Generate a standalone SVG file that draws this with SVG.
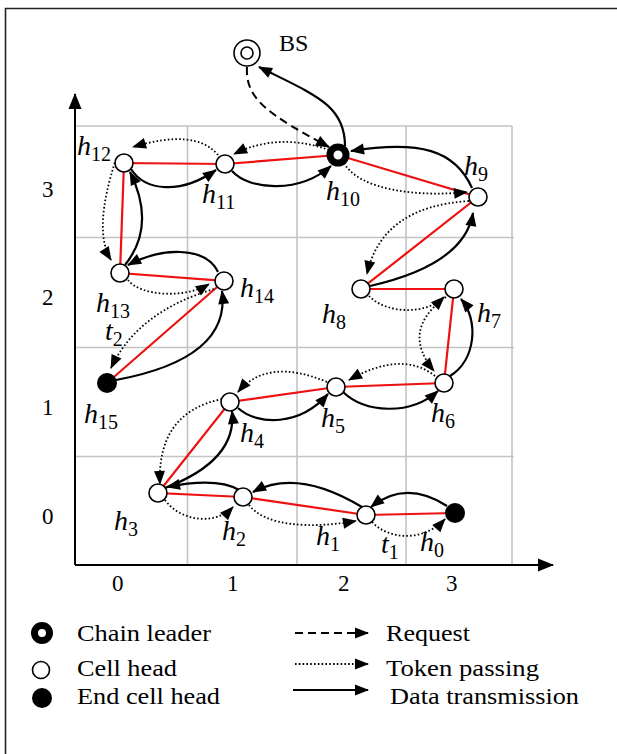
<svg xmlns="http://www.w3.org/2000/svg" width="617" height="754" viewBox="0 0 617 754">
<style>
.grid{stroke:#c4c4c4;stroke-width:1.6;fill:none}
.axis{stroke:#000;stroke-width:2;fill:none}
.chain{stroke:#ee1111;stroke-width:2.2;fill:none}
.data{stroke:#000;stroke-width:2.2;fill:none;marker-end:url(#ah)}
.tok{stroke:#000;stroke-width:1.8;fill:none;stroke-dasharray:1.6 2.2;marker-end:url(#ah)}
.req{stroke:#000;stroke-width:2;fill:none;stroke-dasharray:8 5;marker-end:url(#ah)}
.cell{fill:#fff;stroke:#000;stroke-width:1.6}
.endc{fill:#000}
.lead{fill:#fff;stroke:#000;stroke-width:7}
text{font-family:"Liberation Serif","Times New Roman",serif;fill:#000}
.lbl{font-size:28px;font-style:italic}
.sub{font-size:20px;font-style:normal}
.num{font-size:23px}
.leg{font-size:24px}
</style>
<defs>
<marker id="ah" markerUnits="userSpaceOnUse" markerWidth="14" markerHeight="11" refX="13" refY="5.5" orient="auto" overflow="visible">
<path d="M0,0 L14,5.5 L0,11 z" fill="#000"/>
</marker>
<marker id="axh" markerUnits="userSpaceOnUse" markerWidth="16" markerHeight="13" refX="15" refY="6.5" orient="auto" overflow="visible">
<path d="M0,0 L16,6.5 L0,13 z" fill="#000"/>
</marker>
</defs>
<rect width="617" height="754" fill="#fff"/>
<path d="M5.5,760 V8.5 H620" stroke="#222" stroke-width="1.6" fill="none"/>

<g id="grid">
<path class="grid" d="M75,126 H512 M75,237.5 H514 M75,347.5 H514 M75,456.5 H514 M187.5,126 V565 M297,126 V565 M406,126 V565 M512,126 V565"/>
</g>
<g id="axes">
<path class="axis" d="M75,565 V94" marker-end="url(#axh)"/>
<path class="axis" d="M75,565 H553" marker-end="url(#axh)"/>
<text class="num" x="42" y="197">3</text>
<text class="num" x="42" y="305">2</text>
<text class="num" x="42" y="415">1</text>
<text class="num" x="42" y="524">0</text>
<text class="num" x="112" y="591">0</text>
<text class="num" x="227" y="591">1</text>
<text class="num" x="338" y="591">2</text>
<text class="num" x="446" y="591">3</text>
</g>

<g id="chain">
<polyline class="chain" points="455,513 366,515 243,497 158,493 230,402 336,387 444,383 454,289 361,289 478,197 338,155 225,164 124,163 120,273 224,281 107,383"/>
</g>

<g id="connectors">
<!-- data transmission -->
<path class="data" d="M447,506 Q405.5,479.5 371,507"/>
<path class="data" d="M362,507 Q297,468 253,492"/>
<path class="data" d="M239,490 Q217,477 167,487"/>
<path class="data" d="M165,488 Q237.5,460.5 232,411"/>
<path class="data" d="M238,408 C258,426 300,426 328,394"/>
<path class="data" d="M343,392 C365,413 410,416 438,391"/>
<path class="data" d="M450,376 C476,360 479,320 461,299"/>
<path class="data" d="M370,286 Q464.5,264.5 473,213"/>
<path class="data" d="M472,188 C455,150 420,140 351,151"/>
<path class="data" d="M345,146 C345,105 315,95 259,67"/>
<path class="data" d="M232,171 C250,191 300,193 331,166"/>
<path class="data" d="M131,169 C145,191 180,195 216,170"/>
<path class="data" d="M125,265 Q156.5,225.5 130,172"/>
<path class="data" d="M218,272 C205,245 160,248 128,265"/>
<path class="data" d="M116,380 Q231,358.5 222,291"/>
<!-- token passing -->
<path class="tok" d="M329,150 Q278.5,132 234,154"/>
<path class="tok" d="M218,155 Q195.5,128 133,147"/>
<path class="tok" d="M116,159 Q92.5,230.5 111,260"/>
<path class="tok" d="M128,280 C140,296 185,299 209,284"/>
<path class="tok" d="M214,289 Q137.5,311.5 111,368"/>
<path class="tok" d="M344,163 C360,191 420,197 467,192"/>
<path class="tok" d="M469,201 Q382,206.5 367,274"/>
<path class="tok" d="M369,296 C385,313 425,316 444,297"/>
<path class="tok" d="M446,297 Q400,330 434,371"/>
<path class="tok" d="M435,376 Q402,350 349,380"/>
<path class="tok" d="M327,382 Q267.5,357 238,392"/>
<path class="tok" d="M222,399 Q157,412.5 160,484"/>
<path class="tok" d="M165,500 C180,521 215,526 233,507"/>
<path class="tok" d="M249,505 C265,526 310,529 356,521"/>
<path class="tok" d="M372,522 C390,541 425,541 445,519"/>
<!-- request -->
<path class="req" d="M247,67 C245,100 270,115 329,147"/>
</g>

<g id="BS"><circle cx="247" cy="53" r="13" class="cell"/><circle cx="247" cy="53" r="6" class="cell"/><text x="279" y="51" font-size="24">BS</text></g>
<g id="h10"><circle cx="338" cy="155" r="8" class="lead"/><text class="lbl" x="326" y="200">h<tspan class="sub" dy="6">10</tspan></text></g>
<g id="h11"><circle cx="225" cy="164" r="9" class="cell"/><text class="lbl" x="202" y="203">h<tspan class="sub" dy="6">11</tspan></text></g>
<g id="h12"><circle cx="124" cy="163" r="9" class="cell"/><text class="lbl" x="77" y="155">h<tspan class="sub" dy="6">12</tspan></text></g>
<g id="h13"><circle cx="120" cy="273" r="9" class="cell"/><text class="lbl" x="96" y="312">h<tspan class="sub" dy="6">13</tspan></text></g>
<g id="h14"><circle cx="224" cy="281" r="9" class="cell"/><text class="lbl" x="240" y="297">h<tspan class="sub" dy="6">14</tspan></text></g>
<g id="h15"><circle cx="107" cy="383" r="10" class="endc"/><text class="lbl" x="84" y="423">h<tspan class="sub" dy="6">15</tspan></text></g>
<g id="t2"><text class="lbl" x="105" y="340">t<tspan class="sub" dy="6">2</tspan></text></g>
<g id="h9"><circle cx="478" cy="197" r="9" class="cell"/><text class="lbl" x="464" y="175">h<tspan class="sub" dy="6">9</tspan></text></g>
<g id="h8"><circle cx="361" cy="289" r="9" class="cell"/><text class="lbl" x="322" y="323">h<tspan class="sub" dy="6">8</tspan></text></g>
<g id="h7"><circle cx="454" cy="289" r="9" class="cell"/><text class="lbl" x="477" y="322">h<tspan class="sub" dy="6">7</tspan></text></g>
<g id="h6"><circle cx="444" cy="383" r="9" class="cell"/><text class="lbl" x="431" y="422">h<tspan class="sub" dy="6">6</tspan></text></g>
<g id="h5"><circle cx="336" cy="387" r="9" class="cell"/><text class="lbl" x="321" y="427">h<tspan class="sub" dy="6">5</tspan></text></g>
<g id="h4"><circle cx="230" cy="402" r="9" class="cell"/><text class="lbl" x="240" y="442">h<tspan class="sub" dy="6">4</tspan></text></g>
<g id="h3"><circle cx="158" cy="493" r="9" class="cell"/><text class="lbl" x="114" y="530">h<tspan class="sub" dy="6">3</tspan></text></g>
<g id="h2"><circle cx="243" cy="497" r="9" class="cell"/><text class="lbl" x="222" y="540">h<tspan class="sub" dy="6">2</tspan></text></g>
<g id="h1"><circle cx="366" cy="515" r="9" class="cell"/><text class="lbl" x="316" y="545">h<tspan class="sub" dy="6">1</tspan></text></g>
<g id="t1"><text class="lbl" x="381" y="553">t<tspan class="sub" dy="6">1</tspan></text></g>
<g id="h0"><circle cx="455" cy="513" r="10" class="endc"/><text class="lbl" x="420" y="551">h<tspan class="sub" dy="6">0</tspan></text></g>

<g id="legend">
<circle cx="42" cy="633" r="7.5" class="lead" stroke-width="7"/>
<text class="leg" x="77" y="641" textLength="134" lengthAdjust="spacingAndGlyphs">Chain leader</text>
<circle cx="41" cy="670" r="8.5" class="cell"/>
<text class="leg" x="77" y="676" textLength="100" lengthAdjust="spacingAndGlyphs">Cell head</text>
<circle cx="42" cy="698" r="10" class="endc"/>
<text class="leg" x="77" y="704" textLength="143" lengthAdjust="spacingAndGlyphs">End cell head</text>
<path class="req" d="M295,633 H368"/>
<text class="leg" x="386" y="641" textLength="84" lengthAdjust="spacingAndGlyphs">Request</text>
<path class="tok" d="M295,664 H368" stroke-dasharray="1 1.5" stroke-width="1.5"/>
<text class="leg" x="386" y="676" textLength="153" lengthAdjust="spacingAndGlyphs">Token passing</text>
<path class="data" d="M293,690 H368"/>
<text class="leg" x="390" y="704" textLength="189" lengthAdjust="spacingAndGlyphs">Data transmission</text>
</g>
</svg>
